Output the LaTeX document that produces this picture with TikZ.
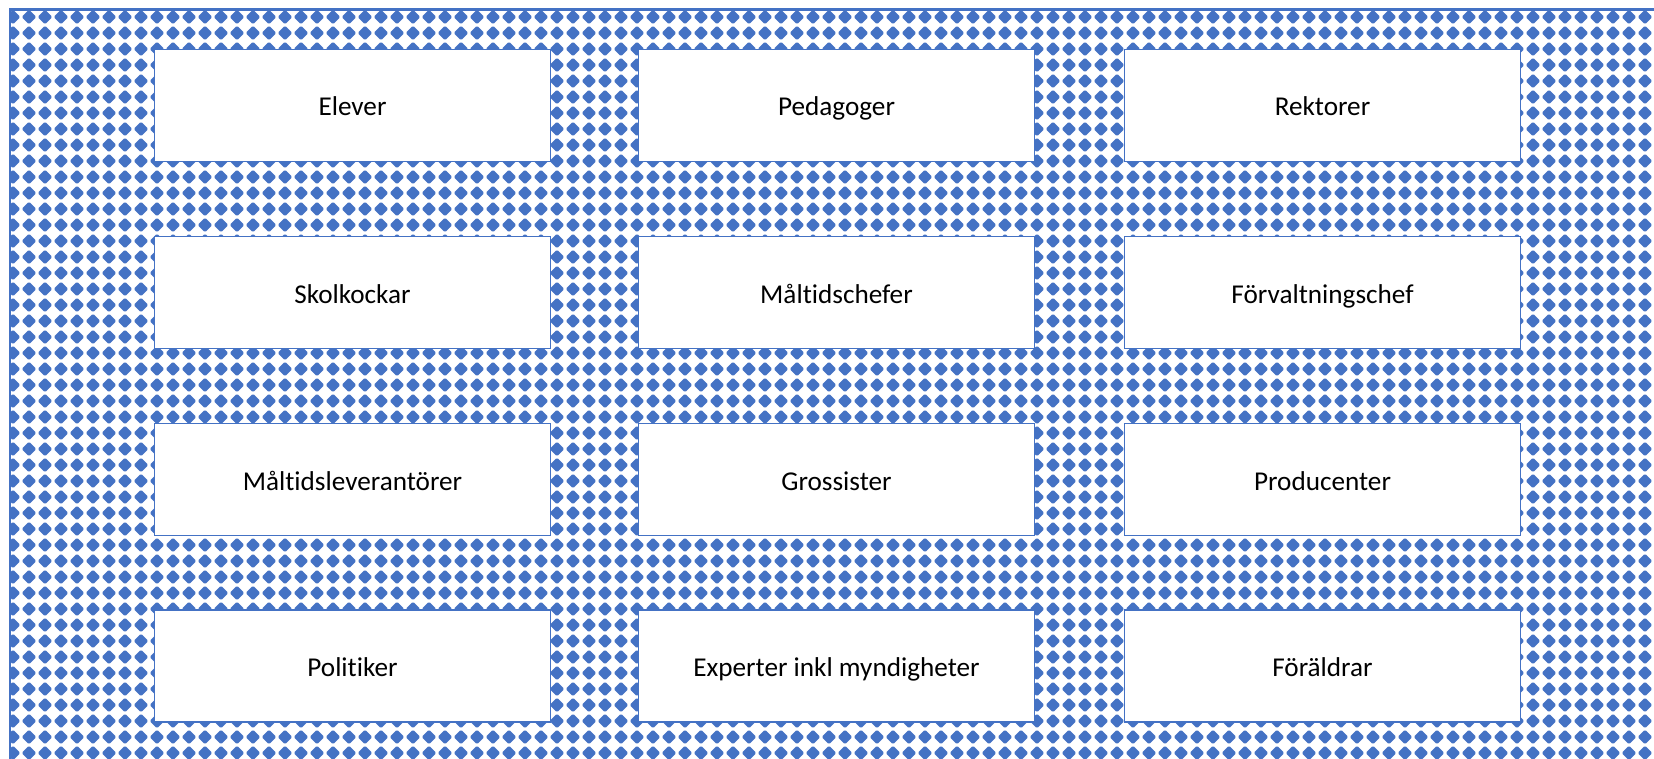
\documentclass[tikz,border=0pt]{standalone}
\usepackage{fontspec}
\setmainfont{Carlito}[Ligatures=NoCommon]
\definecolor{acc}{HTML}{4472C4}
\begin{document}
\begin{tikzpicture}[x=1pt,y=-1pt,
  card/.style={draw=acc,line width=1.6pt,fill=white,minimum width=396pt,minimum height=112pt,inner sep=0pt,text height=25pt,text depth=4pt,font=\fontsize{27.2}{33}\selectfont,text=black},
  frame/.style={draw=acc,line width=2.2pt}]
\useasboundingbox (0,0) rectangle (1654,759);
\begin{scope}
\clip (10,9) rectangle (1654,759);
\fill[acc] foreach \i [evaluate=\i as \x using 13+16*\i] in {0,...,103} {
  foreach \j [evaluate=\j as \y using 17+16*\j] in {-1,...,47} {
    (\x-6.4,\y-1) -- (\x-1,\y-6.4) -- (\x+1,\y-6.4) -- (\x+6.4,\y-1) -- (\x+6.4,\y+1) -- (\x+1,\y+6.4) -- (\x-1,\y+6.4) -- (\x-6.4,\y+1) -- cycle } };
\end{scope}
\draw[frame] (10,770) -- (10,9.5) -- (1660,9.5);
\node[card] (n1) at (352.5,105.5) {Elever};
\node[card] (n2) at (836.5,105.5) {Pedagoger};
\node[card] (n3) at (1322.5,105.5) {Rektorer};
\node[card] (n4) at (352.5,292.5) {Skolkockar};
\node[card] (n5) at (836.5,292.5) {Måltidschefer};
\node[card] (n6) at (1322.5,292.5) {Förvaltningschef};
\node[card] (n7) at (352.5,479.5) {Måltidsleverantörer};
\node[card] (n8) at (836.5,479.5) {Grossister};
\node[card] (n9) at (1322.5,479.5) {Producenter};
\node[card] (n10) at (352.5,666) {Politiker};
\node[card] (n11) at (836.5,666) {Experter inkl myndigheter};
\node[card] (n12) at (1322.5,666) {Föräldrar};
\end{tikzpicture}
\end{document}
